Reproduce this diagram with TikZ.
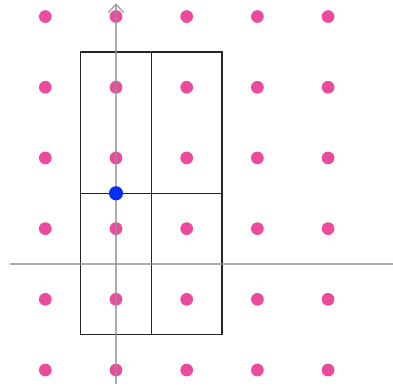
\documentclass[tikz,border=0pt]{standalone}
\usetikzlibrary{arrows.meta}
\definecolor{dotpink}{HTML}{EC4A9C}
\definecolor{dotblue}{HTML}{0A2BF0}
\definecolor{axisgray}{HTML}{909090}
\tikzset{
  axisline/.style={draw=axisgray, line width=0.6pt, draw opacity=0.75},
  cellbox/.style={draw=black!85, line width=0.5pt},
  pinkdot/.style={circle, fill=dotpink, inner sep=0pt, minimum size=0.18cm},
  bluedot/.style={circle, fill=dotblue, inner sep=0pt, minimum size=0.2cm},
}
\begin{document}
\begin{tikzpicture}
\useasboundingbox (-1.641,-1.754) rectangle (3.918,3.734);
% rectangles
\draw[cellbox] (-0.5,-1) rectangle (1.5,3);
\draw[cellbox] (0.5,-1) -- (0.5,3);
\draw[cellbox] (-0.5,1) -- (1.5,1);
% lattice dots
\foreach \i in {-1,0,1,2,3}{
  \foreach \j in {-1.5,-0.5,0.5,1.5,2.5,3.5}{
    \node[pinkdot] (d\i\j) at (\i,\j) {};
  }
}
% axes
\coordinate (xl) at (-1.5,0);
\coordinate (xr) at (3.918,0);
\coordinate (yb) at (0,-1.70);
\coordinate (yt) at (0,3.69);
\draw[axisline] (xl) -- (xr);
\draw[axisline, -{Straight Barb[length=1.2mm,width=2.2mm]}] (yb) -- (yt);
\node[bluedot] (b) at (0,1) {};
\end{tikzpicture}
\end{document}
